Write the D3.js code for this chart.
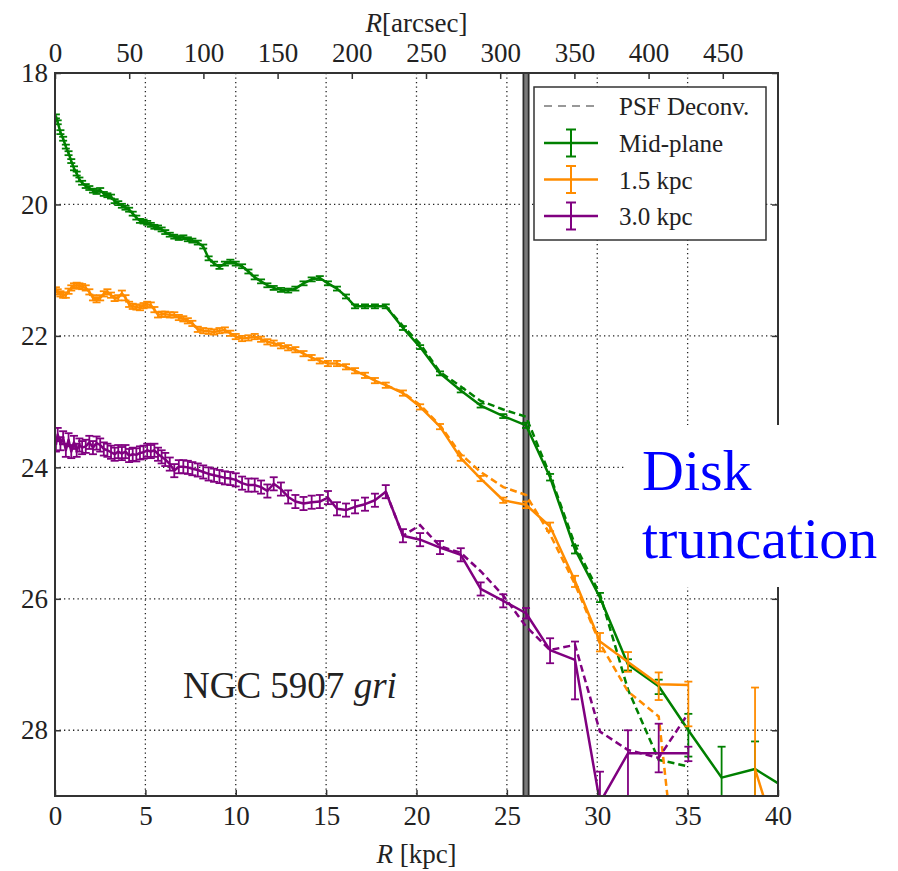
<!DOCTYPE html>
<html>
<head>
<meta charset="utf-8">
<script src="https://cdn.jsdelivr.net/npm/d3@7"></script>
<style>
body{margin:0;background:#fff;}
svg text{font-family:"Liberation Serif","DejaVu Serif",serif !important;}
</style>
</head>
<body>
<script>
// radius grid (kpc) shared by the three cuts
const rKpc=[0.05,0.15,0.3,0.45,0.6,0.75,0.9,1.05,1.2,1.35,
  1.5,1.7,1.9,2.1,2.3,2.5,2.7,2.9,3.1,3.3,
  3.5,3.7,3.9,4.1,4.3,4.5,4.7,4.9,5.1,5.3,
  5.5,5.7,5.9,6.1,6.35,6.6,6.85,7.1,7.35,7.6,
  7.9,8.2,8.5,8.8,9.1,9.4,9.7,10.0,10.35,10.7,
  11.05,11.4,11.75,12.1,12.5,12.9,13.3,13.75,14.2,14.65,
  15.1,15.6,16.1,16.6,17.15,17.7,18.3,19.25,20.2,21.3,
  22.45,23.55,24.8,26.06,27.39,28.77,30.15,31.7,33.4,35.04,
  36.88,38.73,40.6];

const midPlane=[18.66,18.75,18.9,19.0,19.12,19.22,19.34,19.45,19.53,19.62,
  19.67,19.72,19.75,19.79,19.81,19.78,19.84,19.86,19.88,19.95,
  19.98,20.02,20.05,20.08,20.14,20.2,20.25,20.26,20.28,20.31,
  20.34,20.35,20.38,20.42,20.46,20.49,20.51,20.5,20.53,20.55,
  20.58,20.64,20.82,20.9,20.95,20.9,20.87,20.9,20.94,21.02,
  21.11,21.17,21.23,21.27,21.3,21.31,21.28,21.2,21.14,21.12,
  21.2,21.28,21.4,21.55,21.55,21.55,21.55,21.88,22.17,22.57,
  22.83,23.06,23.22,23.36,24.15,25.25,25.98,27.0,27.33,28.0,
  28.72,28.59,28.91];

const kpc15=[21.3,21.33,21.36,21.38,21.38,21.32,21.27,21.24,21.23,21.24,
  21.25,21.27,21.33,21.42,21.45,21.42,21.36,21.33,21.38,21.43,
  21.42,21.35,21.42,21.52,21.55,21.56,21.57,21.54,21.52,21.53,
  21.6,21.68,21.67,21.67,21.68,21.68,21.72,21.74,21.77,21.81,
  21.9,21.92,21.93,21.94,21.92,21.91,21.96,22.01,22.04,22.03,
  22.01,22.05,22.09,22.11,22.15,22.18,22.21,22.27,22.33,22.38,
  22.42,22.42,22.47,22.53,22.6,22.68,22.75,22.87,23.08,23.38,
  23.86,24.17,24.5,24.57,24.9,25.73,26.65,26.96,27.3,27.31,
  null,28.59,30.25];

const kpc30=[23.66,23.5,23.64,23.55,23.74,23.58,23.76,23.62,23.74,23.66,
  23.7,23.68,23.62,23.7,23.63,23.66,23.72,23.74,23.77,23.8,
  23.76,23.79,23.76,23.82,23.8,23.81,23.78,23.77,23.74,23.76,
  23.74,23.8,23.84,23.88,23.95,24.05,23.99,23.99,24.0,24.02,
  24.04,24.07,24.1,24.12,24.14,24.16,24.17,24.19,24.24,24.27,
  24.27,24.3,24.36,24.25,24.33,24.45,24.52,24.55,24.53,24.52,
  24.46,24.63,24.65,24.6,24.56,24.5,24.37,25.04,25.1,25.22,
  25.33,25.85,26.03,26.22,26.78,26.93,29.1,28.35,28.35,28.35,
  null,null,null];

// PSF-deconvolved profiles (outer part, where they separate from the raw ones)
const rPsf=[18.3,19.25,20.2,21.3,22.45,23.55,24.8,26.06,27.39,28.77,30.15,31.7,33.4,35.04];
const midPlanePsf=[21.55,21.85,22.12,22.55,22.77,22.99,23.12,23.23,24.12,25.18,25.93,27.38,28.45,28.55];
const kpc15Psf=[22.75,22.86,23.05,23.36,23.8,24.07,24.3,24.42,25.02,25.78,26.68,27.41,27.79,31.9];
const kpc30Psf=[24.37,25.04,24.88,25.2,25.3,25.58,25.95,26.42,26.78,26.7,28.02,28.3,28.42,27.74];

// error bars: small constant inside, read values for the outer points (from R=26.06 on)
const innerErr={mid:0.03,k15:0.04,k30:0.1};
const midErrUp=[0.04,0.05,0.06,0.07,0.08,0.1,0.25,0.47,0.42,0.5];
const midErrDn=[0.04,0.05,0.06,0.07,0.09,0.12,0.4,0.6,0.6,0.6];
const k15ErrUp=[0.05,0.06,0.08,0.13,0.15,0.18,0.05,0,1.24,1.5];
const k15ErrDn=[0.05,0.07,0.09,0.15,0.15,0.24,0.63,0,2.0,2.0];
const k30ErrUp=[0.08,0.18,0.28,0.47,0.35,0.45,0.1,0,0,0];
const k30ErrDn=[0.08,0.2,0.6,0.6,0.8,0.29,0.12,0,0,0];
const outerStart=73;

const kpcTicks=[0,5,10,15,20,25,30,35,40];
const muTicks=[18,20,22,24,26,28];
const arcsecTicks=[0,50,100,150,200,250,300,350,400,450];
const arcsecPerKpc=12.18;
const rTrunc=26.06;

const series=[
  {key:"mid",name:"Mid-plane",color:"#008000",mu:midPlane,psf:midPlanePsf,up:midErrUp,dn:midErrDn},
  {key:"k15",name:"1.5 kpc",color:"#ff8c00",mu:kpc15,psf:kpc15Psf,up:k15ErrUp,dn:k15ErrDn},
  {key:"k30",name:"3.0 kpc",color:"#800080",mu:kpc30,psf:kpc30Psf,up:k30ErrUp,dn:k30ErrDn}
];

const FONT="Liberation Serif, DejaVu Serif, serif";
const W=898,H=871;
const L=55,R=778,T=73,B=796;
const svg=d3.select("body").append("svg").attr("width",W).attr("height",H)
  .attr("font-family",FONT);
const x=d3.scaleLinear().domain([0,40]).range([L,R]);
const y=d3.scaleLinear().domain([18,29]).range([T,B]);
const xTop=d3.scaleLinear().domain([0,40*arcsecPerKpc]).range([L,R]);

svg.append("clipPath").attr("id","plotclip").append("rect")
  .attr("x",L).attr("y",T).attr("width",R-L).attr("height",B-T);

// grid
const grid=svg.append("g").attr("stroke","#222").attr("stroke-width",1.3).attr("stroke-dasharray","1.3,3.2");
grid.selectAll(".gx").data(kpcTicks.slice(1,-1)).enter().append("line")
  .attr("x1",d=>x(d)).attr("x2",d=>x(d)).attr("y1",T).attr("y2",B);
grid.selectAll(".gy").data(muTicks.slice(1)).enter().append("line")
  .attr("y1",d=>y(d)).attr("y2",d=>y(d)).attr("x1",L).attr("x2",R);

// truncation radius
svg.append("line").attr("x1",x(rTrunc)).attr("x2",x(rTrunc)).attr("y1",T).attr("y2",B)
  .attr("stroke","#2b2b2b").attr("stroke-width",7);
svg.append("line").attr("x1",x(rTrunc)).attr("x2",x(rTrunc)).attr("y1",T).attr("y2",B)
  .attr("stroke","#7a7a7a").attr("stroke-width",3.5);

const plot=svg.append("g").attr("clip-path","url(#plotclip)");
const line=d3.line().defined(d=>d.mu!=null).x(d=>x(d.r)).y(d=>y(d.mu));

series.forEach(s=>{
  const pts=rPsf.map((r,i)=>({r:r,mu:s.psf[i]}));
  plot.append("path").datum(pts).attr("d",line).attr("fill","none")
    .attr("stroke",s.color).attr("stroke-width",2.5).attr("stroke-dasharray","7,4");
});

series.forEach(s=>{
  const pts=rKpc.map((r,i)=>{
    let up=innerErr[s.key],dn=innerErr[s.key];
    if(i>=outerStart){up=s.up[i-outerStart];dn=s.dn[i-outerStart];}
    return {r:r,mu:s.mu[i],up:up,dn:dn};
  });
  plot.append("path").datum(pts).attr("d",line).attr("fill","none")
    .attr("stroke",s.color).attr("stroke-width",2.5).attr("stroke-linejoin","round");
  const eb=plot.append("g").attr("stroke",s.color).attr("stroke-width",1.8);
  const ok=pts.filter(d=>d.mu!=null&&(d.up>0||d.dn>0));
  eb.selectAll(".v").data(ok).enter().append("line")
    .attr("x1",d=>x(d.r)).attr("x2",d=>x(d.r))
    .attr("y1",d=>y(d.mu-d.up)).attr("y2",d=>y(d.mu+d.dn));
  eb.selectAll(".ct").data(ok).enter().append("line")
    .attr("x1",d=>x(d.r)-4).attr("x2",d=>x(d.r)+4)
    .attr("y1",d=>y(d.mu-d.up)).attr("y2",d=>y(d.mu-d.up));
  eb.selectAll(".cb").data(ok).enter().append("line")
    .attr("x1",d=>x(d.r)-4).attr("x2",d=>x(d.r)+4)
    .attr("y1",d=>y(d.mu+d.dn)).attr("y2",d=>y(d.mu+d.dn));
});

// axes
function styleAxis(g){
  g.attr("font-size",27).attr("font-family",FONT).attr("color","#222");
  g.select(".domain").remove();
  g.selectAll(".tick line").attr("stroke","#333").attr("stroke-width",1.5);
  g.selectAll(".tick text").attr("font-family",FONT);
}
svg.append("g").attr("transform",`translate(0,${B})`)
  .call(d3.axisBottom(x).tickValues(kpcTicks).tickSize(-6).tickPadding(10).tickFormat(d3.format("d")))
  .call(styleAxis);
svg.append("g").attr("transform",`translate(0,${T})`)
  .call(d3.axisTop(xTop).tickValues(arcsecTicks).tickSize(-6).tickPadding(11).tickFormat(d3.format("d")))
  .call(styleAxis);
svg.append("g").attr("transform",`translate(${L},0)`)
  .call(d3.axisLeft(y).tickValues(muTicks).tickSize(-6).tickPadding(7).tickFormat(d3.format("d")))
  .call(styleAxis);
svg.append("g").attr("transform",`translate(${R},0)`)
  .call(d3.axisRight(y).tickValues(muTicks).tickSize(-6).tickFormat(""))
  .call(styleAxis);

svg.append("rect").attr("x",L).attr("y",T).attr("width",R-L).attr("height",B-T)
  .attr("fill","none").attr("stroke","#333").attr("stroke-width",2);

// axis titles
const xt=svg.append("text").attr("x",(L+R)/2).attr("y",863).attr("text-anchor","middle")
  .attr("font-family",FONT).attr("font-size",27).attr("fill","#222");
xt.append("tspan").attr("font-style","italic").text("R");
xt.append("tspan").text(" [kpc]");
const tt=svg.append("text").attr("x",(L+R)/2).attr("y",32).attr("text-anchor","middle")
  .attr("font-family",FONT).attr("font-size",27).attr("fill","#222");
tt.append("tspan").attr("font-style","italic").text("R");
tt.append("tspan").text("[arcsec]");

// galaxy label
const ng=svg.append("text").attr("x",183).attr("y",698).attr("font-family",FONT)
  .attr("font-size",37).attr("fill","#222");
ng.append("tspan").text("NGC 5907 ");
ng.append("tspan").attr("font-style","italic").text("gri");

// legend
const lg=svg.append("g").attr("font-family",FONT);
lg.append("rect").attr("x",534).attr("y",87).attr("width",232).attr("height",153)
  .attr("fill","#fff").attr("stroke","#333").attr("stroke-width",1.5);
lg.append("line").attr("x1",544).attr("x2",598).attr("y1",106).attr("y2",106)
  .attr("stroke","#777").attr("stroke-width",1.6).attr("stroke-dasharray","8,6");
lg.append("text").attr("x",619).attr("y",115).attr("font-size",25).attr("fill","#222").text("PSF Deconv.");
series.forEach((s,i)=>{
  const cy=143+i*36.5;
  const g=lg.append("g").attr("stroke",s.color).attr("stroke-width",2.5);
  g.append("line").attr("x1",544).attr("x2",598).attr("y1",cy).attr("y2",cy);
  g.append("line").attr("x1",571).attr("x2",571).attr("y1",cy-13.5).attr("y2",cy+13.5).attr("stroke-width",2);
  g.append("line").attr("x1",566).attr("x2",576).attr("y1",cy-13.5).attr("y2",cy-13.5).attr("stroke-width",2);
  g.append("line").attr("x1",566).attr("x2",576).attr("y1",cy+13.5).attr("y2",cy+13.5).attr("stroke-width",2);
  lg.append("text").attr("x",619).attr("y",cy+9).attr("font-size",25).attr("fill","#222").text(s.name);
});

// annotation
svg.append("rect").attr("x",625).attr("y",425).attr("width",W-625).attr("height",162).attr("fill","#fff");
svg.append("text").attr("x",642).attr("y",490).attr("font-family",FONT).attr("font-size",58).attr("fill","#0000ff").text("Disk");
svg.append("text").attr("x",642).attr("y",558).attr("font-family",FONT).attr("font-size",58).attr("fill","#0000ff").text("truncation");
</script>
</body>
</html>
